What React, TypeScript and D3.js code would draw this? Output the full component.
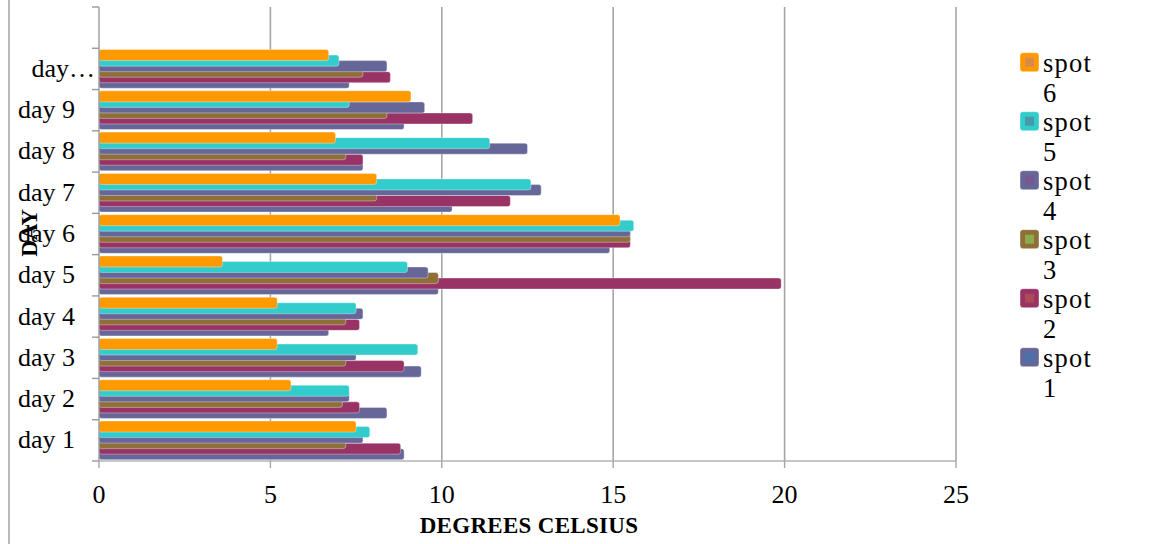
import React from 'react';
import * as d3 from 'd3';

const days = ['day 1', 'day 2', 'day 3', 'day 4', 'day 5', 'day 6', 'day 7', 'day 8', 'day 9', 'day 10'];
const dayLabels = ['day 1', 'day 2', 'day 3', 'day 4', 'day 5', 'day 6', 'day 7', 'day 8', 'day 9', 'day…'];
const spots = ['spot 1', 'spot 2', 'spot 3', 'spot 4', 'spot 5', 'spot 6'];

const spot1 = [8.9, 8.4, 9.4, 6.7, 9.9, 14.9, 10.3, 7.7, 8.9, 7.3];
const spot2 = [8.8, 7.6, 8.9, 7.6, 19.9, 15.5, 12.0, 7.7, 10.9, 8.5];
const spot3 = [7.2, 7.1, 7.2, 7.2, 9.9, 15.5, 8.1, 7.2, 8.4, 7.7];
const spot4 = [7.7, 7.3, 7.5, 7.7, 9.6, 15.5, 12.9, 12.5, 9.5, 8.4];
const spot5 = [7.9, 7.3, 9.3, 7.5, 9.0, 15.6, 12.6, 11.4, 7.3, 7.0];
const spot6 = [7.5, 5.6, 5.2, 5.2, 3.6, 15.2, 8.1, 6.9, 9.1, 6.7];

const xTicks = [0, 5, 10, 15, 20, 25];

const seriesValues = [spot1, spot2, spot3, spot4, spot5, spot6];
const barColors = ['#666699', '#993366', '#8e6f38', '#666699', '#33cccc', '#ff9900'];
const markerColors = ['#4a72aa', '#ab4a58', '#8caa4e', '#78598f', '#4898a8', '#d8894c'];

const FONT = "'Liberation Serif', 'Times New Roman', serif";

const App: React.FC = () => {
  const width = 1156;
  const height = 544;
  const left = 99;
  const right = 956;
  const top = 7;
  const bottom = 461;

  const x = d3.scaleLinear().domain([0, 25]).range([left, right]);
  // an empty slot sits above the last day, as in the original
  const y = d3
    .scaleBand<string>()
    .domain([...days, ''])
    .range([bottom, top])
    .paddingInner(0)
    .paddingOuter(0);

  const bw = y.bandwidth();
  const cluster = bw * 0.937;
  const step = cluster / 7;
  const barH = step * 2;
  const pad = (bw - cluster) / 2;

  const boundaries = d3.range(days.length + 2).map((i) => bottom - i * bw);

  return (
    <svg
      width={width}
      height={height}
      style={{ position: 'absolute', left: 0, top: 0, background: '#fff' }}
      fontFamily={FONT}
    >
      {/* chart frame */}
      <line x1={9} x2={9} y1={0} y2={height} stroke="#8c8c8c" strokeWidth={1.2} />

      {/* gridlines */}
      {xTicks.slice(1).map((t) => (
        <line key={t} x1={x(t)} x2={x(t)} y1={top} y2={bottom} stroke="#a6a6a6" strokeWidth={1.6} />
      ))}

      {/* bars */}
      {days.map((d, di) => {
        const bandTop = y(d) as number;
        return (
          <g key={d}>
            {seriesValues.map((vals, si) => (
              <rect
                key={si}
                x={x(0)}
                y={bandTop + pad + (5 - si) * step}
                width={x(vals[di]) - x(0)}
                height={barH}
                rx={2.5}
                fill={barColors[si]}
                stroke="rgba(255,255,255,0.45)"
                strokeWidth={0.8}
              />
            ))}
          </g>
        );
      })}

      {/* y axis */}
      <line x1={left} x2={left} y1={top} y2={bottom} stroke="#9a9a9a" strokeWidth={1.4} />
      {boundaries.map((b, i) => (
        <line key={i} x1={left - 7} x2={left} y1={b} y2={b} stroke="#9a9a9a" strokeWidth={1.4} />
      ))}
      {days.map((d, i) => (
        <text
          key={d}
          x={i === days.length - 1 ? 95 : 75}
          y={(y(d) as number) + bw / 2 + 8}
          textAnchor="end"
          fontSize={26}
          fill="#000"
        >
          {dayLabels[i]}
        </text>
      ))}

      {/* x axis */}
      <line x1={left} x2={right} y1={bottom} y2={bottom} stroke="#b3b3b3" strokeWidth={1.6} />
      {xTicks.map((t) => (
        <g key={t}>
          <line x1={x(t)} x2={x(t)} y1={bottom} y2={bottom + 7} stroke="#a6a6a6" strokeWidth={1.4} />
          <text x={x(t)} y={503} textAnchor="middle" fontSize={26} fill="#000">
            {t}
          </text>
        </g>
      ))}

      {/* axis titles */}
      <text x={529} y={533} textAnchor="middle" fontSize={23} fontWeight="bold" fill="#000" letterSpacing={0.3}>
        DEGREES CELSIUS
      </text>
      <text
        transform="translate(37,233) rotate(-90)"
        textAnchor="middle"
        fontSize={23}
        fontWeight="bold"
        fill="#000"
      >
        DAY
      </text>

      {/* legend, top entry is spot 6 */}
      {spots
        .map((s, i) => ({ s, i }))
        .reverse()
        .map(({ s, i }, k) => {
          const sy = 52.7 + k * 59;
          const [word, num] = s.split(' ');
          return (
            <g key={s}>
              <rect x={1020} y={sy} width={19} height={19} rx={3} fill={barColors[i]} stroke="rgba(255,255,255,0.5)" strokeWidth={0.8} />
              <rect x={1025} y={sy + 5} width={9} height={9} fill={markerColors[i]} />
              <text x={1043} y={sy + 19} fontSize={26.5} fill="#000" letterSpacing={1.2}>
                {word}
              </text>
              <text x={1043} y={sy + 49} fontSize={26.5} fill="#000">
                {num}
              </text>
            </g>
          );
        })}
    </svg>
  );
};

export default App;
